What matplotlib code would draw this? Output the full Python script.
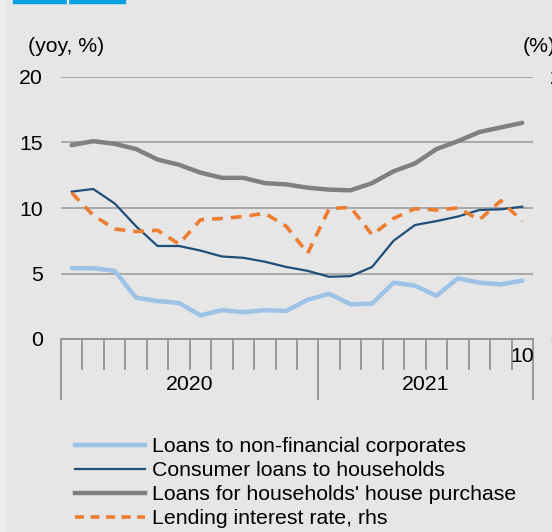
import numpy as np
import matplotlib
matplotlib.use("Agg")
import matplotlib.pyplot as plt
from matplotlib.lines import Line2D
from matplotlib.patches import Rectangle

plt.rcParams['font.family'] = ['Liberation Sans', 'DejaVu Sans']

# monthly data, Jan 2020 .. Oct 2021
years = ['2020', '2021']
months_per_year = [12, 10]
corporates = [5.4, 5.4, 5.2, 3.15, 2.9, 2.75, 1.8, 2.2, 2.05, 2.2, 2.15, 3.0,
              3.45, 2.65, 2.7, 4.3, 4.07, 3.3, 4.63, 4.3, 4.17, 4.45]
consumer = [11.25, 11.45, 10.35, 8.6, 7.1, 7.1, 6.75, 6.3, 6.2, 5.9, 5.5, 5.2,
            4.75, 4.8, 5.5, 7.5, 8.7, 9.0, 9.35, 9.85, 9.9, 10.1]
house = [14.8, 15.1, 14.9, 14.5, 13.7, 13.3, 12.7, 12.3, 12.3, 11.9, 11.8, 11.55,
         11.4, 11.35, 11.9, 12.8, 13.4, 14.5, 15.1, 15.8, 16.15, 16.5]
lending_rate = [11.15, 9.45, 8.4, 8.2, 8.3, 7.25, 9.1, 9.2, 9.35, 9.6, 8.6, 6.55,
                9.95, 10.05, 7.95, 9.2, 9.95, 9.85, 10.0, 9.1, 10.55, 9.0]
labels = ["Loans to non-financial corporates",
          "Consumer loans to households",
          "Loans for households' house purchase",
          "Lending interest rate, rhs"]

bg = '#e6e6e6'
c_light = '#9dc3e6'
c_dark = '#1f4e79'
c_grey = '#808080'
c_orange = '#ed7d31'
axis_grey = '#8c8c8c'
fs = 15.3

fig = plt.figure(figsize=(5.52, 5.32), dpi=100, facecolor=bg)
# lighter strip on the left edge and the blue tab at the top
fig.patches.append(Rectangle((0, 0), 5/552, 1, transform=fig.transFigure,
                             color='#ececec', zorder=0))
fig.patches.append(Rectangle((13/552, 1 - 3/532), 112/552, 3/532,
                             transform=fig.transFigure, color='#009fe3', zorder=1))
fig.patches.append(Rectangle((66.5/552, 1 - 3/532), 1.2/552, 3/532,
                             transform=fig.transFigure, color='white', zorder=2))

ax = fig.add_axes([61/552, 1 - 339/532, 472/552, 262/532])
ax.set_facecolor(bg)
n = len(house)
x = np.arange(n)

ax.set_xlim(-0.5, n - 0.5)
ax.set_ylim(0, 20)
for s in ['top', 'right', 'left']:
    ax.spines[s].set_visible(False)
ax.spines['bottom'].set_color(axis_grey)
ax.spines['bottom'].set_linewidth(1.2)

ax.set_yticks([0, 5, 10, 15, 20])
ax.set_yticklabels(['0', '5', '10', '15', '20'], fontsize=fs)
ax.tick_params(axis='y', length=0, pad=13)
ax.grid(axis='y', color='#999999', linewidth=1.1)
ax.set_axisbelow(True)

# month boundaries as minor ticks, year boundaries as long major ticks
bounds = np.arange(-0.5, n, 1.0)
year_bounds = np.concatenate([[-0.5], np.cumsum(months_per_year) - 0.5])
ax.set_xticks(year_bounds)
ax.set_xticklabels([])
ax.set_xticks(bounds, minor=True)
ax.tick_params(axis='x', which='major', length=44, width=1.2, color=axis_grey, direction='out')
ax.tick_params(axis='x', which='minor', length=22, width=1.2, color=axis_grey, direction='out')

for i, yr in enumerate(years):
    mid = (year_bounds[i] + year_bounds[i + 1]) / 2
    ax.text(mid, -0.175, yr, transform=ax.get_xaxis_transform(),
            ha='center', va='center', fontsize=fs)
ax.text(n - 1, -0.065, '10', transform=ax.get_xaxis_transform(),
        ha='center', va='center', fontsize=fs)

ax2 = ax.twinx()
ax2.set_ylim(0, 20)
for s in ax2.spines.values():
    s.set_visible(False)
ax2.set_yticks([0, 5, 10, 15, 20])
ax2.set_yticklabels(['0', '5', '10', '15', '20'], fontsize=fs)
ax2.tick_params(axis='y', length=0, pad=12.5)

ax.plot(x, corporates, color=c_light, lw=3.2, solid_capstyle='round', zorder=3)
ax.plot(x, consumer, color=c_dark, lw=1.6, zorder=4)
ax.plot(x, house, color=c_grey, lw=3.2, solid_capstyle='round', zorder=3)
ax2.plot(x, lending_rate, color=c_orange, lw=2.6, dashes=(3, 2.2), zorder=5)

fig.text(28/552, 1 - 47/532, '(yoy, %)', fontsize=fs, va='center', ha='left')
fig.text(523/552, 1 - 47/532, '(%)', fontsize=fs, va='center', ha='left')

handles = [Line2D([], [], color=c_light, lw=3.2),
           Line2D([], [], color=c_dark, lw=1.6),
           Line2D([], [], color=c_grey, lw=3.2),
           Line2D([], [], color=c_orange, lw=2.6, dashes=(2.5, 1.8))]
fig.legend(handles, labels, loc='upper left', bbox_to_anchor=(75/552, 1 - 437/532),
           frameon=False, fontsize=fs, handlelength=3.3, handletextpad=0.33,
           labelspacing=0.24, borderaxespad=0, borderpad=0)

fig.savefig('out.png', dpi=100, facecolor=bg)
